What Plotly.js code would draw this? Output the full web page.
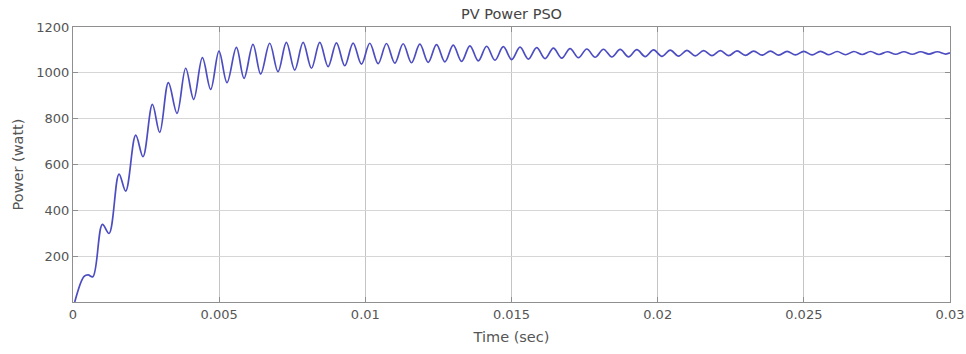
<!DOCTYPE html>
<html>
<head>
<meta charset="utf-8">
<script src="https://cdn.plot.ly/plotly-3.0.1.min.js"></script>
<style>html,body{margin:0;padding:0;background:#fff;}#chart{width:966px;height:354px;}</style>
</head>
<body>
<div id="chart"></div>
<script>
// Time (s) of each read-off point: start, then alternating peaks and troughs
const time = [
  0.00006, 0.00038, 0.00052, 0.00068,
  0.001006, 0.001232, 0.001574, 0.001803, 0.002145, 0.002395, 0.002716, 0.002966,
  0.003263, 0.003558, 0.003855, 0.004129, 0.004426, 0.00471, 0.004994, 0.005268,
  0.00559, 0.00585, 0.006157, 0.006421, 0.006729, 0.007013, 0.0073, 0.007584,
  0.007871, 0.008157, 0.008442, 0.008727, 0.009012, 0.009297, 0.009582, 0.009867,
  0.010152, 0.010438, 0.010723, 0.011009, 0.011294, 0.01158, 0.011865, 0.012151,
  0.012436, 0.012722, 0.013007, 0.013293, 0.013578, 0.013864, 0.014149, 0.014435,
  0.01472, 0.015006, 0.015291, 0.015577, 0.015862, 0.016148, 0.016433, 0.016719,
  0.017004, 0.01729, 0.017575, 0.017861, 0.018146, 0.018432, 0.018717, 0.019003,
  0.019288, 0.019574, 0.019859, 0.020145, 0.02043, 0.020716, 0.021001, 0.021287,
  0.021572, 0.021858, 0.022143, 0.022429, 0.022714, 0.023, 0.023285, 0.023571,
  0.023856, 0.024142, 0.024427, 0.024713, 0.024998, 0.025284, 0.025569, 0.025855,
  0.02614, 0.026426, 0.026711, 0.026997, 0.027282, 0.027568, 0.027853, 0.028139,
  0.028424, 0.02871, 0.028995, 0.029281, 0.029566, 0.029852, 0.03
];
// Power (watt) at those points
const power = [
  0, 112, 118, 110,
  339, 299, 558, 484, 728, 634, 862, 740,
  957, 823, 1020, 884, 1066, 928, 1095, 957,
  1111, 976, 1124, 995, 1129, 1005, 1133, 1012,
  1133, 1020, 1133, 1027, 1131, 1031, 1130, 1038,
  1129, 1040, 1128, 1042, 1127, 1044, 1125, 1046,
  1123, 1048, 1121, 1050, 1118, 1052, 1116, 1055,
  1114, 1058, 1112, 1060, 1110, 1062, 1108, 1064,
  1106, 1066, 1104, 1068, 1103, 1069, 1102, 1070,
  1101, 1071, 1100, 1072, 1099, 1073, 1098, 1074,
  1097, 1075, 1097, 1075, 1096, 1076, 1095, 1077,
  1095, 1077, 1094, 1078, 1094, 1078, 1094, 1079,
  1093, 1079, 1093, 1080, 1093, 1080, 1092, 1081,
  1092, 1081, 1092, 1082, 1092, 1082, 1087
];
const xTicks = [0, 0.005, 0.01, 0.015, 0.02, 0.025, 0.03];
const xTickLabels = ['0', '0.005', '0.01', '0.015', '0.02', '0.025', '0.03'];
const yTicks = [200, 400, 600, 800, 1000, 1200];
const yTickLabels = ['200', '400', '600', '800', '1000', '1200'];

const trace = {
  x: time, y: power, type: 'scatter', mode: 'lines',
  line: {color: '#4d4dc2', width: 1.7, shape: 'spline', smoothing: 1},
  hoverinfo: 'skip'
};
const FAM = 'DejaVu Sans, Verdana, sans-serif';
const layout = {
  width: 966, height: 354,
  margin: {l: 73, r: 16, t: 27, b: 52},
  paper_bgcolor: '#ffffff', plot_bgcolor: '#ffffff',
  showlegend: false,
  font: {family: FAM, size: 13, color: '#555555'},
  title: {text: 'PV Power PSO', x: 0.5, xref: 'paper', y: 0.962, yanchor: 'middle',
          font: {family: FAM, size: 14.5, color: '#444444'}},
  xaxis: {
    range: [0, 0.03], tickvals: xTicks, ticktext: xTickLabels,
    tickfont: {family: FAM, size: 13, color: '#555555'},
    showgrid: true, gridcolor: '#c4c4c4', gridwidth: 1,
    zeroline: false, showline: true, linecolor: '#8f8f8f', linewidth: 1, mirror: 'ticks',
    ticks: 'inside', ticklen: 5, tickcolor: '#8f8f8f',
    title: {text: 'Time (sec)', standoff: 11, font: {family: FAM, size: 14.5, color: '#555555'}}
  },
  yaxis: {
    range: [0, 1200], tickvals: yTicks, ticktext: yTickLabels,
    tickfont: {family: FAM, size: 13, color: '#555555'},
    showgrid: true, gridcolor: '#d6d6d6', gridwidth: 1,
    zeroline: false, showline: true, linecolor: '#8f8f8f', linewidth: 1, mirror: 'ticks',
    ticks: 'inside', ticklen: 5, tickcolor: '#8f8f8f',
    title: {text: 'Power (watt)', standoff: 9, font: {family: FAM, size: 14.5, color: '#555555'}}
  }
};
Plotly.newPlot('chart', [trace], layout, {staticPlot: true, displayModeBar: false});
</script>
</body>
</html>
